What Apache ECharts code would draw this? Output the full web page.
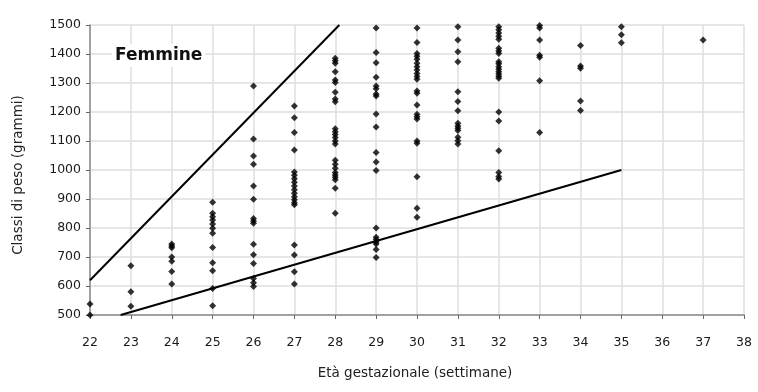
<!DOCTYPE html>
<html>
<head>
<meta charset="utf-8">
<script src="https://cdn.jsdelivr.net/npm/echarts@6/dist/echarts.min.js"></script>
<style>
  html, body { margin: 0; padding: 0; background: #fff; }
  #chart { width: 758px; height: 392px; }
</style>
</head>
<body>
<div id="chart"></div>
<script>
// Weight classes (grams) observed at each gestational week
const pesi22 = [538, 500];
const pesi23 = [670, 580, 530];
const pesi24 = [745, 738, 732, 700, 685, 650, 607];
const pesi25 = [889, 851, 839, 828, 814, 799, 782, 733, 680, 653, 591, 532];
const pesi26 = [1290, 1107, 1048, 1020, 945, 899, 833, 824, 816, 744, 708, 678, 626, 611, 598];
const pesi27 = [1221, 1180, 1129, 1069, 993, 982, 970, 958, 945, 932, 920, 908, 897, 887, 880, 741, 707, 649, 607];
const pesi28 = [1385, 1377, 1368, 1339, 1310, 1302, 1268, 1245, 1235, 1142, 1132, 1122, 1112, 1100, 1090, 1034, 1020, 1006, 991, 983, 975, 966, 937, 851];
const pesi29 = [1490, 1405, 1370, 1320, 1290, 1280, 1262, 1255, 1193, 1148, 1060, 1028, 998, 800, 768, 760, 752, 745, 726, 698];
const pesi30 = [1490, 1440, 1402, 1392, 1382, 1368, 1356, 1345, 1333, 1322, 1313, 1272, 1265, 1224, 1192, 1184, 1176, 1100, 1092, 977, 868, 837];
const pesi31 = [1494, 1448, 1408, 1373, 1270, 1236, 1204, 1161, 1152, 1144, 1136, 1113, 1101, 1090];
const pesi32 = [1494, 1484, 1472, 1461, 1451, 1420, 1410, 1402, 1373, 1366, 1356, 1347, 1339, 1331, 1323, 1316, 1200, 1169, 1066, 991, 978, 969];
const pesi33 = [1498, 1490, 1448, 1396, 1389, 1308, 1129];
const pesi34 = [1429, 1359, 1351, 1238, 1205];
const pesi35 = [1494, 1466, 1439];
const pesi37 = [1448];

const settimane = [22, 23, 24, 25, 26, 27, 28, 29, 30, 31, 32, 33, 34, 35, 37];
const pesiPerSettimana = [pesi22, pesi23, pesi24, pesi25, pesi26, pesi27, pesi28, pesi29, pesi30, pesi31, pesi32, pesi33, pesi34, pesi35, pesi37];

// Reference boundary lines: [week, grams] end points
const limiteSuperiore = [[22, 620], [28.1, 1500]];
const limiteInferiore = [[22.75, 500], [35, 1000]];

// Axis ranges
const xMin = 22, xMax = 38, xStep = 1;
const yMin = 500, yMax = 1500, yStep = 100;

const punti = [];
settimane.forEach((w, i) => {
  pesiPerSettimana[i].forEach(v => punti.push([w, v]));
});

const FONT = '"DejaVu Sans", sans-serif';
const chart = echarts.init(document.getElementById('chart'), null, { renderer: 'canvas' });

chart.setOption({
  animation: false,
  backgroundColor: '#ffffff',
  grid: { left: 90, right: 14, top: 25, bottom: 77 },
  xAxis: {
    type: 'value',
    min: xMin, max: xMax, interval: xStep,
    axisLine: { show: true, lineStyle: { color: '#8a8a8a', width: 1.5 } },
    axisTick: { show: true, length: 4, lineStyle: { color: '#666', width: 1 } },
    axisLabel: { margin: 21, color: '#1a1a1a', fontSize: 12.5, fontFamily: FONT },
    splitLine: { show: true, lineStyle: { color: '#dedede', width: 1.5 } }
  },
  yAxis: {
    type: 'value',
    min: yMin, max: yMax, interval: yStep,
    axisLine: { show: true, lineStyle: { color: '#8a8a8a', width: 1.5 } },
    axisTick: { show: true, length: 4, lineStyle: { color: '#666', width: 1 } },
    axisLabel: {
      margin: 9, color: '#1a1a1a', fontSize: 12.5, fontFamily: FONT,
      formatter: v => String(v)
    },
    splitLine: { show: true, lineStyle: { color: '#dedede', width: 1.5 } }
  },
  graphic: [
    {
      type: 'text', left: 112, top: 44, z: 10,
      style: {
        text: 'Femmine', font: 'bold 17px ' + FONT, fill: '#111',
        backgroundColor: '#fff', padding: [3, 3, 3, 3]
      }
    },
    {
      type: 'text', x: 18, y: 175, rotation: Math.PI / 2,
      style: {
        text: 'Classi di peso (grammi)', font: '13.5px ' + FONT, fill: '#222',
        align: 'center', verticalAlign: 'middle'
      }
    },
    {
      type: 'text', x: 415, y: 373,
      style: {
        text: 'Età gestazionale (settimane)', font: '13.5px ' + FONT, fill: '#222',
        align: 'center', verticalAlign: 'middle'
      }
    }
  ],
  series: [
    {
      type: 'scatter',
      data: punti,
      symbol: 'diamond',
      symbolSize: 7,
      itemStyle: { color: '#000' },
      z: 3
    },
    {
      type: 'line',
      data: limiteSuperiore,
      showSymbol: false,
      symbol: 'none',
      lineStyle: { color: '#000', width: 2 },
      z: 4
    },
    {
      type: 'line',
      data: limiteInferiore,
      showSymbol: false,
      symbol: 'none',
      lineStyle: { color: '#000', width: 2 },
      z: 4
    }
  ]
});
</script>
</body>
</html>
